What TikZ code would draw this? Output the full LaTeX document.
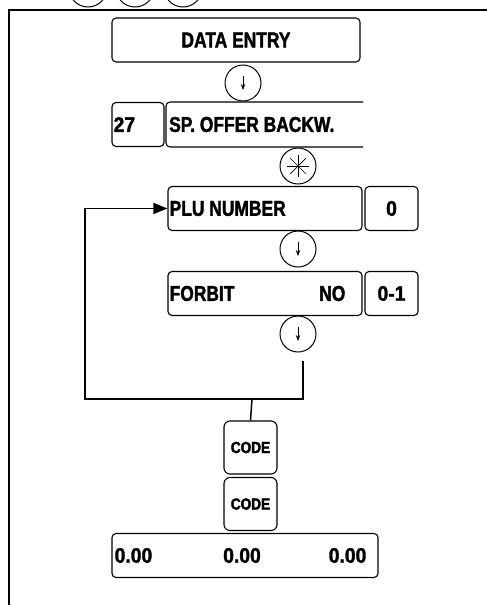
\documentclass[tikz,border=0pt]{standalone}
\usepackage{fontspec}
\setmainfont{Liberation Sans}
\newfontfamily\condfont[FakeStretch=0.81, FakeBold=1.6]{Liberation Sans Bold}
\newfontfamily\numfont[FakeStretch=0.92, FakeBold=1.6]{Liberation Sans Bold}
\newfontfamily\keyfont[FakeStretch=0.85, FakeBold=2.4]{Liberation Sans Bold}
\usepackage{tikz}
\usetikzlibrary{positioning, calc, arrows.meta}
\tikzset{
  looptip/.tip={Triangle[length=14pt, width=11pt]},
  dispbox/.style={
    draw=black, line width=1.1pt, rounded corners=4pt,
    rectangle, minimum height=44pt, inner sep=0pt
  },
  valbox/.style={
    draw=black, line width=1.1pt, rounded corners=4pt,
    rectangle, minimum height=44pt, minimum width=53pt, inner sep=0pt,
    font=\numfont\fontsize{21}{23}\selectfont
  },
  codekey/.style={
    draw=black, line width=1.1pt, rounded corners=6pt,
    rectangle, minimum width=53pt, minimum height=53pt, inner sep=0pt,
    font=\keyfont\fontsize{16}{18}\selectfont
  },
  keycirc/.style={
    draw=black, line width=1pt, circle, minimum size=36pt, inner sep=0pt
  },
  dtext/.style={
    font=\condfont\fontsize{21.5}{23}\selectfont, inner sep=0pt
  },
  ntext/.style={
    font=\numfont\fontsize{21}{23}\selectfont, inner sep=0pt
  },
  downtip/.style={
    line width=0.7pt, -{Stealth[length=6pt, width=4.5pt]}
  },
  frameline/.style={line width=2pt},
  loopline/.style={line width=1.5pt},
}

\begin{document}
\begin{tikzpicture}[x=1pt, y=-1pt]
\useasboundingbox (0,0) rectangle (487,605);
\clip (0,0) rectangle (487,605);

% ---- Frame and keys above it ---------------------------------------
\node[keycirc, minimum size=38pt] (topkeyA) at ( 88,-12) {};
\node[keycirc, minimum size=38pt] (topkeyB) at (135,-12) {};
\node[keycirc, minimum size=38pt] (topkeyC) at (183,-12) {};
\draw[frameline] (9,605) -- (9,10) -- (487,10);

% ---- Displays ------------------------------------------------------
\node[dispbox, minimum width=248pt] (dataentry) at (236,40) {};
\node[dtext] (dataentry_t) at (dataentry.center) {DATA ENTRY};

\node[keycirc] (down1) at (243,83) {};
\draw[downtip] ($(down1.center)+(0,-7)$) -- ($(down1.center)+(0,7)$);

\node[dispbox, minimum width=52pt] (num27) at (138,124.5) {};
\node[ntext, anchor=west] (num27_t) at ($(num27.west)+(2,0)$) {27};
% open on the right side
\draw[line width=1.1pt, rounded corners=4pt]
  (363,102) -| (166,147) -- (363,147);
\coordinate (spoffer) at (166,124.5);
\node[dtext, anchor=west] (spoffer_t) at ($(spoffer)+(3,0)$) {SP. OFFER BACKW.};

\node[keycirc] (star) at (298,166) {};
\foreach \a in {0,45,90,135}
  \draw[line width=0.7pt] ($(star.center)+(\a:11)$) -- ($(star.center)+(\a+180:11)$);

\node[dispbox, minimum width=194pt] (plu) at (265,208.5) {};
\node[dtext, anchor=west] (plu_t) at ($(plu.west)+(2,0)$) {PLU NUMBER};
\node[valbox] (plu_v) at (391.5,208.5) {0};

\node[keycirc] (down2) at (298,249) {};
\draw[downtip] ($(down2.center)+(0,-7)$) -- ($(down2.center)+(0,7)$);

\node[dispbox, minimum width=194pt] (forbit) at (265,293.5) {};
\node[dtext, anchor=west] (forbit_t) at ($(forbit.west)+(2,0)$) {FORBIT};
\node[dtext, anchor=east] (forbit_no) at ($(forbit.east)+(-17,0)$) {NO};
\node[valbox] (forbit_v) at (391.5,293.5) {0-1};

\node[keycirc] (down3) at (298,334) {};
\draw[downtip] ($(down3.center)+(0,-7)$) -- ($(down3.center)+(0,7)$);

% ---- Code keys and totals ------------------------------------------
\node[codekey] (code1) at (250.5,447.5) {CODE};
\node[codekey] (code2) at (250.5,504)   {CODE};

\node[dispbox, minimum width=266pt] (totals) at (245,555.5) {};
\node[ntext, anchor=west] (tot_l) at ($(totals.west)+(3,0)$)  {0.00};
\node[ntext]              (tot_m) at ($(totals.center)+(-3,0)$) {0.00};
\node[ntext, anchor=east] (tot_r) at ($(totals.east)+(-12,0)$) {0.00};

% ---- Loop back ----------------------------------------------------
\coordinate (lp_start)  at (303,361);
\coordinate (lp_corner) at (303,399);
\coordinate (lp_left)   at ( 85,399);
\coordinate (lp_code)   at (252,399);
\draw[loopline, -looptip] (lp_start) -- (lp_corner) -- (lp_left)
  -- (lp_left |- plu.west) -- (plu.west);
\draw[loopline] (lp_code) -- (code1.north);

\end{tikzpicture}
\end{document}
